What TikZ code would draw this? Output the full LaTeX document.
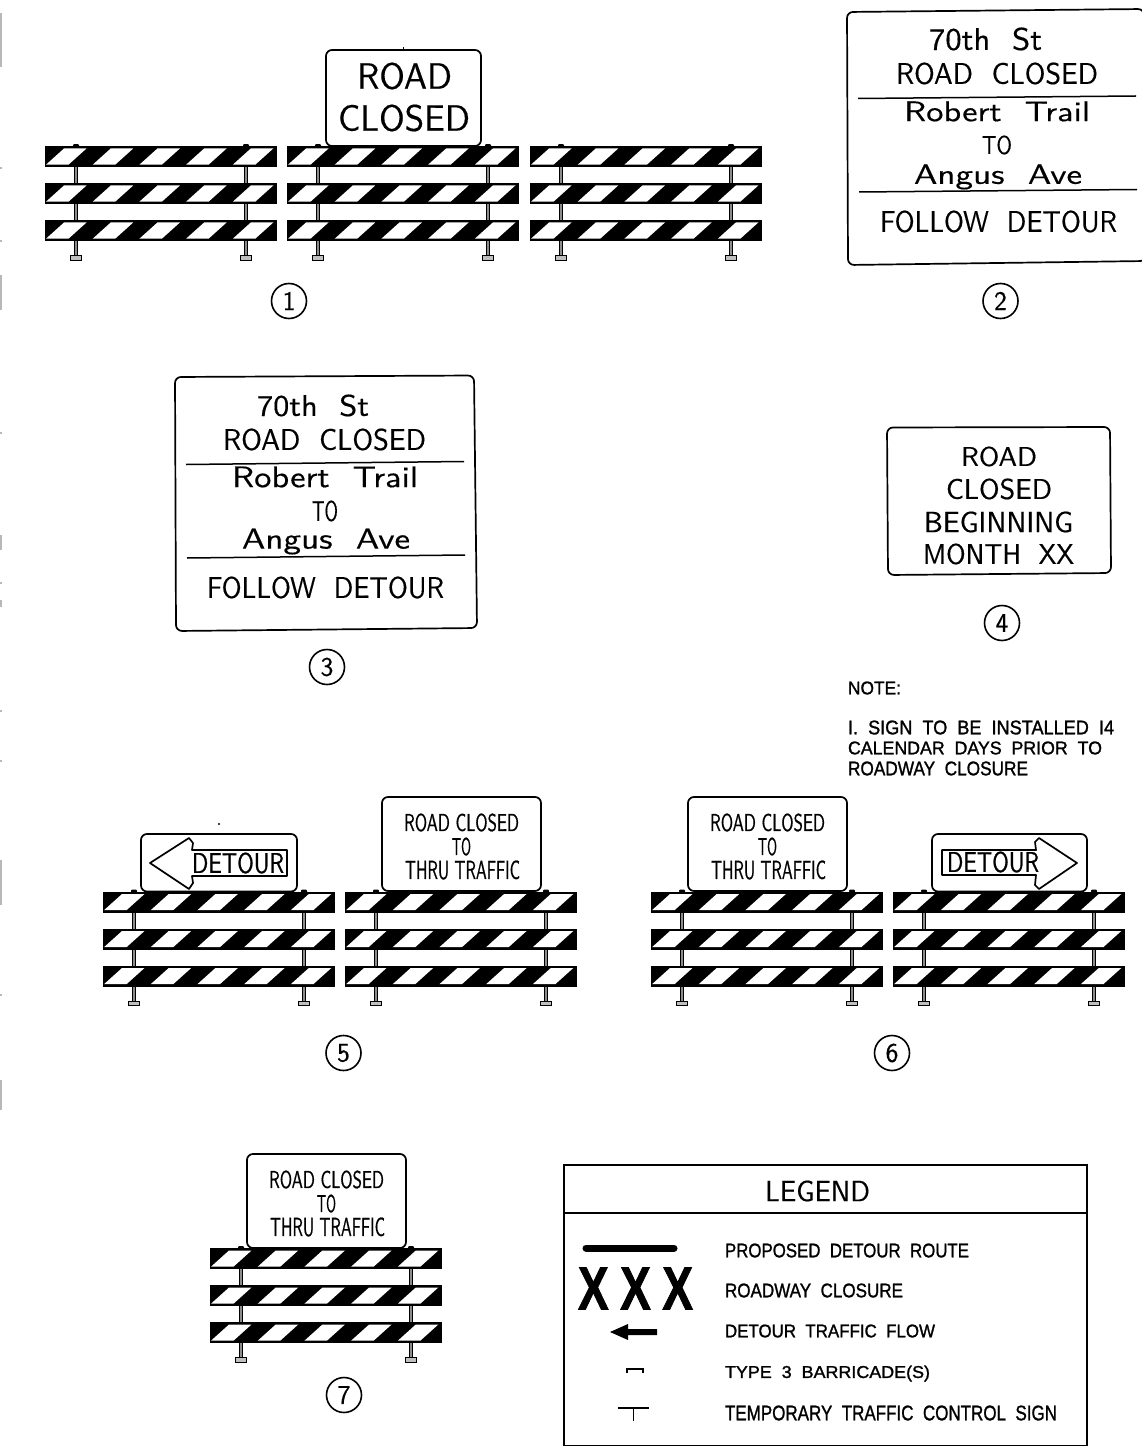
\documentclass[tikz,border=0pt]{standalone}
\usepackage{graphicx}
\usepackage{fontspec}
\setsansfont{Latin Modern Sans}
\newfontfamily\smallf[FakeBold=1.3]{Liberation Sans}
\newfontfamily\xxxf[BoldFeatures={FakeBold=1.5}]{Liberation Sans}
\newfontfamily\midf[FakeBold=0.8]{Latin Modern Sans}
\newfontfamily\bigf[FakeBold=0.35]{Latin Modern Sans}
\tikzset{
  signbox/.style={draw=black,line width=1.7pt,fill=white,rounded corners=6pt},
  rule/.style={draw=black,line width=1.5pt},
  txt/.style={inner sep=0pt,outer sep=0pt,anchor=center,font=\bigf,text=black},
  mtxt/.style={inner sep=0pt,outer sep=0pt,anchor=center,font=\midf,text=black},
  stxt/.style={inner sep=0pt,outer sep=0pt,anchor=center,font=\smallf,text=black},
  xtxt/.style={inner sep=0pt,outer sep=0pt,anchor=center,font=\xxxf\bfseries,text=black},
  numcirc/.style={circle,draw=black,line width=1.6pt,minimum size=35pt,inner sep=0pt,font=\bigf\fontsize{27}{27}\selectfont},
  edgemark/.style={fill=black!28,draw=none},
}
% text fitted to a box: style, name, x1, x2, y1, y2, text
\newcommand{\fitted}[7]{%
  \pgfmathsetmacro{\fw}{#4-#3}\pgfmathsetmacro{\fh}{#6-#5}%
  \node[#1] (#2) at ({(#3+#4)/2},{(#5+#6)/2-0.5}) {\resizebox*{\fw pt}{\fh pt}{#7}};%
}
\newcommand{\onerail}[1]{%
  \fill[black] (0,#1) rectangle (232,#1+21);
  \foreach \k in {0,...,4}{
    \fill[white] ({1+46.7*\k},#1+18.7) -- ({23.5+46.7*\k},#1+18.7) -- ({41.5+46.7*\k},#1+2.5) -- ({19+46.7*\k},#1+2.5) -- cycle;
  }
}
\newcommand{\onepost}[1]{%
  \fill[black!45] (#1-1.8,2) rectangle (#1+1.8,110);
  \draw[black,line width=1.2pt] (#1-1.8,2) -- (#1-1.8,110);
  \draw[black,line width=1.2pt] (#1+1.8,2) -- (#1+1.8,110);
  \fill[black,rounded corners=1pt] (#1-3,-1.8) rectangle (#1+3,1);
  \draw[black,line width=1.3pt,fill=black!25] (#1-5.5,109.8) rectangle (#1+5.5,114.3);
}
\newcommand{\barricade}[2]{%
  \begin{scope}[shift={(#1,#2)}]
    \onepost{31}\onepost{201}
    \onerail{0}\onerail{37}\onerail{74}
  \end{scope}
}
\newcommand{\thrusign}[3]{%
  \begin{scope}[shift={(#1,#2)}]
    \draw[signbox] (382,797) -- (541,797) -- (541,891) -- (382,891) -- cycle;
    \fitted{mtxt}{#3a}{404}{519}{814}{832}{ROAD CLOSED}
    \fitted{mtxt}{#3b}{452}{471}{838}{856}{TO}
    \fitted{mtxt}{#3c}{405}{520}{861}{880}{THRU TRAFFIC}
  \end{scope}
}
\begin{document}
\begin{tikzpicture}[x=1pt,y=-1pt]
\useasboundingbox (0,0) rectangle (1142,1447);
\fill[white] (0,0) rectangle (1142,1447);
% faint marks on the left edge
\foreach \a/\b in {13/67,167/169,240/242,275/310,432/434,535/550,582/584,600/607,710/712,760/762,860/905,994/996,1080/1110}{
  \fill[edgemark] (0,\a) rectangle (2,\b);
}
% group 1
\barricade{45}{146}\barricade{287}{146}\barricade{530}{146}
\draw[signbox] (326,50) -- (481,50) -- (481,146) -- (326,146) -- cycle;
\draw[black,line width=0.8pt] (403.5,47.5) -- (403.5,50);
\fitted{txt}{s1a}{357}{452}{63}{90}{ROAD}
\fitted{txt}{s1b}{338}{470}{105}{132}{CLOSED}
\node[numcirc] (n1) at (289,301) {1};
% sign 2
\draw[signbox] (847,12) -- (1144,9) -- (1146,261) -- (848,265) -- cycle;
\draw[rule] (858,98.5) -- (1136,96);
\draw[rule] (859,192) -- (1137,189.5);
\fitted{txt}{s2a}{929}{1042}{28}{51}{70th\ \ St}
\fitted{txt}{s2b}{896}{1098}{63}{85}{ROAD\ \ CLOSED}
\fitted{txt}{s2c}{904}{1090}{102}{122}{Robert\ \ Trail}
\fitted{txt}{s2d}{982}{1012}{136}{155}{TO}
\fitted{txt}{s2e}{914}{1082}{165}{190}{Angus\ \ Ave}
\fitted{txt}{s2f}{880}{1117}{211}{233}{FOLLOW\ \ DETOUR}
\node[numcirc] (n2) at (1000.5,301) {2};
% sign 3
\draw[signbox] (175,377) -- (474,375.5) -- (477,628) -- (176,631) -- cycle;
\draw[rule] (186,464.5) -- (464,461.5);
\draw[rule] (187,558) -- (465,555);
\fitted{txt}{s3a}{257}{369}{395}{417}{70th\ \ St}
\fitted{txt}{s3b}{223}{426}{429}{451}{ROAD\ \ CLOSED}
\fitted{txt}{s3c}{232}{418}{467}{488}{Robert\ \ Trail}
\fitted{txt}{s3d}{312}{338}{501}{522}{TO}
\fitted{txt}{s3e}{242}{410}{529}{555}{Angus\ \ Ave}
\fitted{txt}{s3f}{207}{444}{577}{599}{FOLLOW\ \ DETOUR}
\node[numcirc] (n3) at (327,667) {3};
% sign 4
\draw[signbox] (887,427.5) -- (1110,427) -- (1111,573) -- (888,575) -- cycle;
\fitted{txt}{s4a}{961}{1037}{447}{467}{ROAD}
\fitted{txt}{s4b}{946}{1052}{479}{500}{CLOSED}
\fitted{txt}{s4c}{924}{1073}{512}{533}{BEGINNING}
\fitted{txt}{s4d}{923}{1074}{544}{565}{MONTH\ \ XX}
\node[numcirc] (n4) at (1002,623) {4};
% note
\fitted{stxt}{na}{848}{901}{682}{695}{NOTE:}
\fitted{stxt}{nb}{848}{1114}{721}{735}{I.\ \ SIGN\ \ TO\ \ BE\ \ INSTALLED\ \ I4}
\fitted{stxt}{nc}{848}{1102}{742}{755}{CALENDAR\ \ DAYS\ \ PRIOR\ \ TO}
\fitted{stxt}{nd}{848}{1028}{762}{776}{ROADWAY\ \ CLOSURE}
% group 5
\barricade{103}{891.5}\barricade{345}{891.5}
\fill[black] (219,824) circle (1.2pt);
\draw[signbox] (141,834) -- (297,834) -- (297,891.5) -- (141,891.5) -- cycle;
\draw[black,line width=1.7pt,line join=round] (150,863) -- (189,838) -- (193,843) -- (192,850) -- (287,850) -- (287,876) -- (192,876) -- (193,883) -- (189,889) -- cycle;
\fitted{mtxt}{d5}{192}{284}{853}{874}{DETOUR}
\thrusign{0}{0}{t5}
\node[numcirc] (n5) at (343.5,1053) {5};
% group 6
\barricade{651}{891.5}\barricade{893}{891.5}
\thrusign{306}{0}{t6}
\draw[signbox] (932,834) -- (1087,834) -- (1087,891.5) -- (932,891.5) -- cycle;
\draw[black,line width=1.7pt,line join=round] (942,850) -- (1036,850) -- (1035,842) -- (1039,838) -- (1077,863) -- (1039,889) -- (1035,885) -- (1036,875) -- (942,875) -- cycle;
\fitted{mtxt}{d6}{947}{1039}{852}{873}{DETOUR}
\node[numcirc] (n6) at (892,1053) {6};
% group 7
\barricade{210}{1248}
\thrusign{-135}{357}{t7}
\node[numcirc] (n7) at (344,1395) {7};
% legend
\draw[black,line width=1.7pt] (564,1165) rectangle (1087,1445.5);
\draw[black,line width=1.6pt] (564,1213) -- (1087,1213);
\fitted{txt}{lt}{765}{870}{1181}{1202}{LEGEND}
\draw[black,line width=7pt,line cap=round] (586,1248) -- (674,1248);
\fitted{xtxt}{lx}{578}{693}{1268}{1310}{X\hspace{0.25em}X\hspace{0.25em}X}
\fill[black] (610,1332) -- (628,1324) -- (628,1329) -- (657,1329) -- (657,1335) -- (628,1335) -- (628,1340) -- cycle;
\draw[black,line width=1.5pt] (627,1373) -- (627,1369) -- (643,1369) -- (643,1373);
\draw[black,line width=1.4pt] (618,1408) -- (649,1408);
\draw[black,line width=1.4pt] (633.5,1408) -- (633.5,1421);
\fitted{stxt}{l1}{725}{969}{1244}{1258}{PROPOSED\ \ DETOUR\ \ ROUTE}
\fitted{stxt}{l2}{725}{903}{1284}{1298}{ROADWAY\ \ CLOSURE}
\fitted{stxt}{l3}{725}{935}{1325}{1338}{DETOUR\ \ TRAFFIC\ \ FLOW}
\fitted{stxt}{l4}{725}{930}{1366}{1382}{TYPE\ \ 3\ \ BARRICADE(S)}
\fitted{stxt}{l5}{725}{1057}{1406}{1421}{TEMPORARY\ \ TRAFFIC\ \ CONTROL\ \ SIGN}
\end{tikzpicture}
\end{document}
